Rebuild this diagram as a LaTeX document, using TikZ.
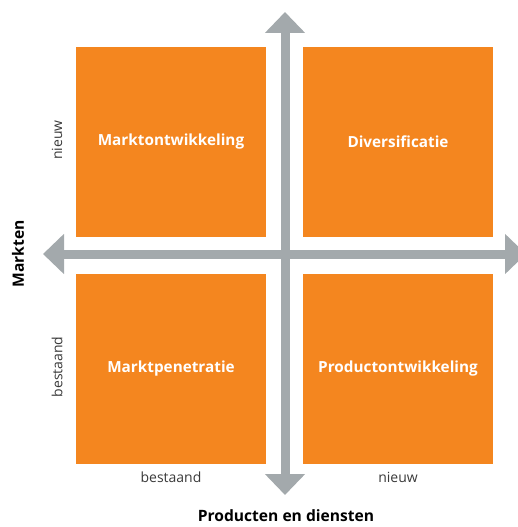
\documentclass[tikz,border=0pt]{standalone}
\usepackage{fontspec}
\setmainfont{Open Sans}
\usetikzlibrary{arrows.meta}
\definecolor{kwadrant}{HTML}{F4861F}
\definecolor{as}{HTML}{A3A9AC}
\definecolor{tekst}{HTML}{3A3A3A}
\tikzstyle{blok} = [fill=kwadrant,minimum size=190pt,inner sep=0pt,text=white,font=\fontsize{15.3}{17}\selectfont\bfseries]
\tikzstyle{pijl} = [draw=as,line width=9pt,{Triangle[width=39pt,length=21pt]}-{Triangle[width=39pt,length=21pt]}]
\tikzstyle{label} = [text=tekst,font=\fontsize{14}{16}\selectfont]
\tikzstyle{titel} = [text=black,font=\fontsize{15.6}{17}\selectfont\bfseries]

\begin{document}
\begin{tikzpicture}[x=1pt,y=-1pt]
\useasboundingbox (0,0) rectangle (517,527);

\node (mo) [blok] at (171,142) {Marktontwikkeling};
\node (di) [blok] at (398,142) {Diversificatie};
\node (mp) [blok] at (171,369) {Marktpenetratie};
\node (po) [blok] at (398,369) {Productontwikkeling};

\coordinate (boven) at (285,12);
\coordinate (onder) at (285,495);
\coordinate (links) at (43,254);
\coordinate (rechts) at (526,254);
\draw [pijl] (onder) -- (boven);
\draw [pijl] (links) -- (rechts);

\node (nieuwy) [label,rotate=90] at (57,140) {nieuw};
\node (bestaandy) [label,rotate=90] at (57,367) {bestaand};
\node (markten) [titel,rotate=90] at (18,254) {Markten};
\node (bestaandx) [label] at (171,477) {bestaand};
\node (nieuwx) [label] at (398,477) {nieuw};
\node (producten) [titel] at (286,516) {Producten en diensten};

\end{tikzpicture}
\end{document}
